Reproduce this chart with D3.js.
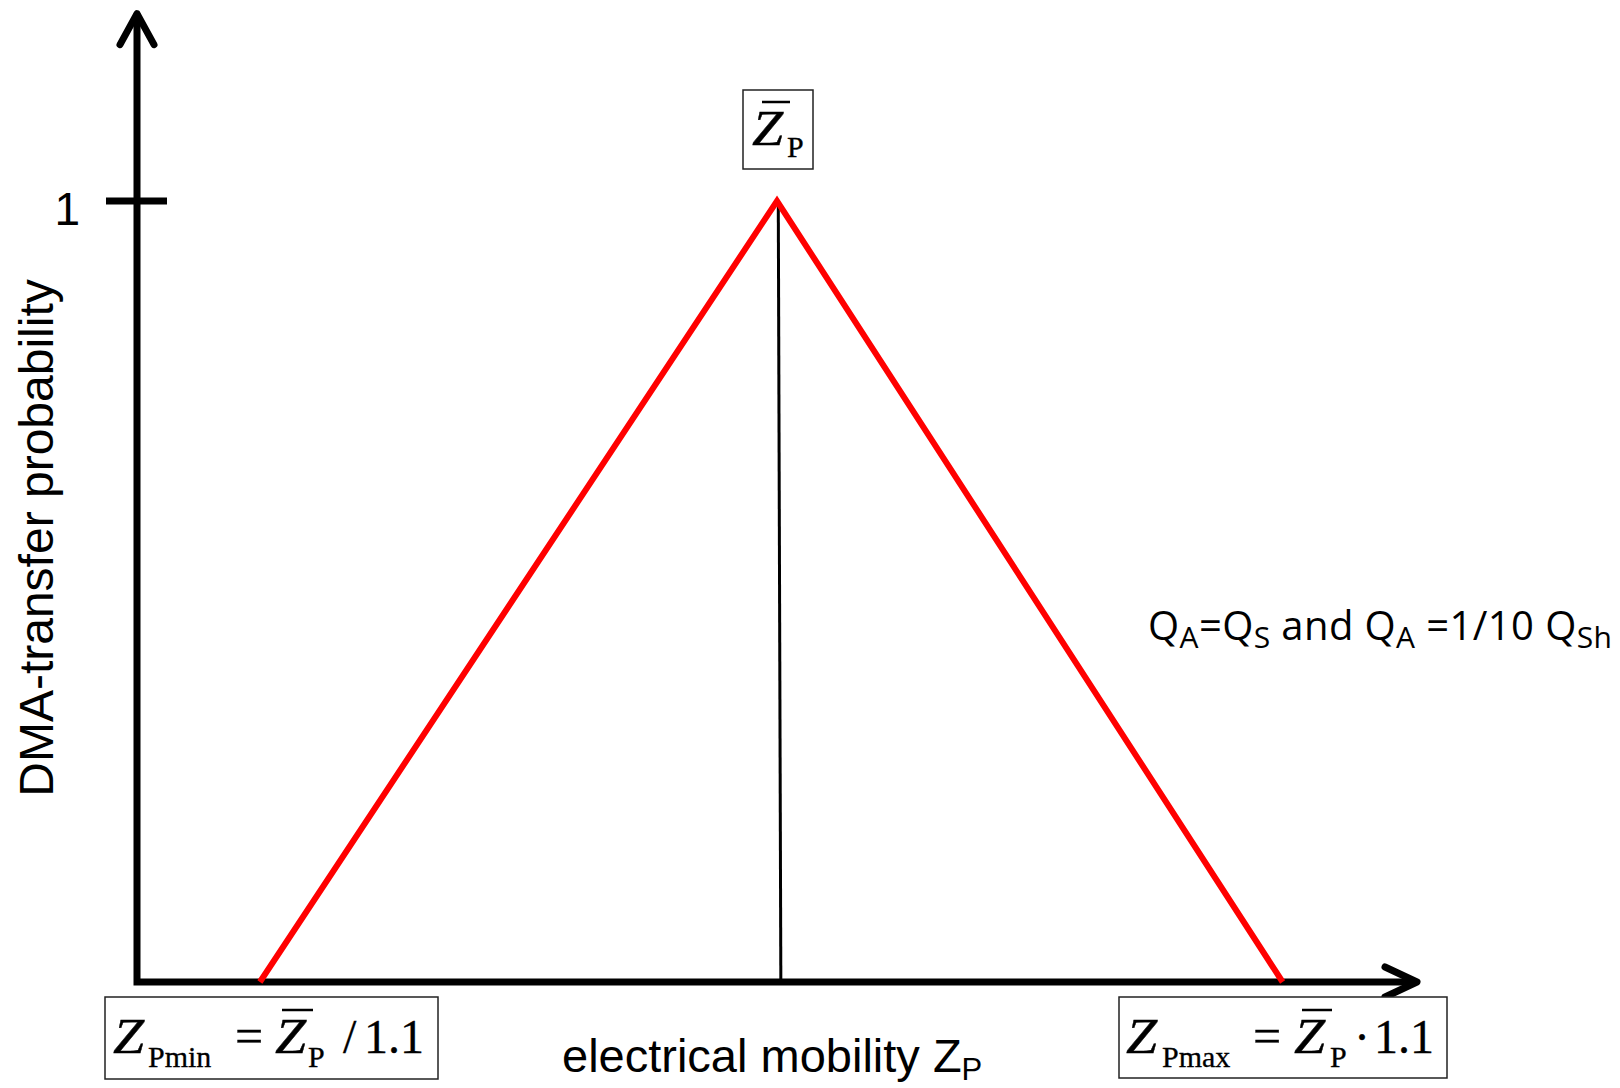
<!DOCTYPE html>
<html><head><meta charset="utf-8">
<script src="https://cdn.jsdelivr.net/npm/d3@7"></script>
<style>body{margin:0;background:#fff}</style>
</head><body><svg id="c" width="1620" height="1088"></svg>
<script>
// ---- data (schematic units) ----
const transferX = [0.96, 5.0, 8.95];      // Zpmin, Zp, Zpmax
const transferY = [0, 1, 0];
const centerLineX = [5.01, 5.03];
const centerLineY = [1, 0];
const yTicks = [1];
const yTickLabels = ["1"];
const yLabel = "DMA-transfer probability";
const xLabelMain = "electrical mobility Z";
const xLabelSub = "P";
const noteParts = [["Q",0],["A",1],["=Q",0],["S",1],[" and Q",0],["A",1],[" =1/10 Q",0],["Sh",1]];

const svg = d3.select("#c");
const x = d3.scaleLinear().domain([0, 10]).range([137, 1417]);
const y = d3.scaleLinear().domain([0, 1]).range([982, 201]);
const yTop = 1.24;

// axes
svg.append("path")
  .attr("d", d3.line()([[x(0), y(yTop)], [x(0), y(0)], [x(10), y(0)]]))
  .attr("fill", "none").attr("stroke", "#000").attr("stroke-width", 7)
  .attr("stroke-linejoin", "miter");
// arrowheads
svg.append("path")
  .attr("d", d3.line()([[x(0) - 17, y(yTop) + 31], [x(0), y(yTop)], [x(0) + 17, y(yTop) + 31]]))
  .attr("fill", "none").attr("stroke", "#000").attr("stroke-width", 7)
  .attr("stroke-linecap", "round").attr("stroke-linejoin", "round");
svg.append("path")
  .attr("d", d3.line()([[x(10) - 32, y(0) - 15], [x(10), y(0)], [x(10) - 32, y(0) + 15]]))
  .attr("fill", "none").attr("stroke", "#000").attr("stroke-width", 7)
  .attr("stroke-linecap", "round").attr("stroke-linejoin", "round");

// tick
svg.selectAll(".tick").data(yTicks).enter().append("line")
  .attr("x1", x(0) - 31).attr("x2", x(0) + 30)
  .attr("y1", d => y(d)).attr("y2", d => y(d))
  .attr("stroke", "#000").attr("stroke-width", 7);
svg.selectAll(".tl").data(yTicks).enter().append("text")
  .attr("x", 80).attr("y", d => y(d) + 24)
  .attr("text-anchor", "end")
  .attr("font-family", "Liberation Sans, Arial, sans-serif").attr("font-size", 46)
  .text((d, i) => yTickLabels[i]);

// center vertical line
svg.append("path")
  .attr("d", d3.line()(centerLineX.map((v, i) => [x(v), y(centerLineY[i])])))
  .attr("fill", "none").attr("stroke", "#000").attr("stroke-width", 3);

// transfer function
svg.append("path")
  .attr("d", d3.line()(transferX.map((v, i) => [x(v), y(transferY[i])])))
  .attr("fill", "none").attr("stroke", "#ff0000").attr("stroke-width", 6)
  .attr("stroke-linejoin", "miter");

// y label
svg.append("text")
  .attr("transform", "translate(53,538) rotate(-90)")
  .attr("text-anchor", "middle")
  .attr("font-family", "Liberation Sans, Arial, sans-serif").attr("font-size", 48)
  .text(yLabel);

// x label
const xl = svg.append("text")
  .attr("x", 562).attr("y", 1072)
  .attr("font-family", "Liberation Sans, Arial, sans-serif").attr("font-size", 47);
xl.append("tspan").text(xLabelMain);
xl.append("tspan").attr("dy", 8).attr("font-size", 31).text(xLabelSub);

// note
const nt = svg.append("text")
  .attr("x", 1148).attr("y", 640)
  .attr("font-family", "'Open Sans', Lato, sans-serif").attr("font-size", 40)
  .attr("letter-spacing", 0.4);
let prevSub = 0;
noteParts.forEach(([t, s]) => {
  const ts = nt.append("tspan").text(t).attr("font-size", s ? 30 : 40);
  if (s !== prevSub) ts.attr("dy", s ? 8 : -8);
  prevSub = s;
});

// formula boxes
const serif = "Liberation Serif, 'Times New Roman', serif";
function box(x0, y0, x1, y1) {
  svg.append("rect").attr("x", x0).attr("y", y0).attr("width", x1 - x0).attr("height", y1 - y0)
    .attr("fill", "#fff").attr("stroke", "#222").attr("stroke-width", 1.5);
}
function txt(tx, ty, s, size, italic) {
  const t = svg.append("text").attr("x", tx).attr("y", ty).attr("font-family", serif)
    .attr("font-size", size).attr("font-style", italic ? "italic" : "normal")
    .attr("fill", "#000").attr("stroke", "#000").attr("stroke-width", italic ? 0.4 : 0.3)
    .text(s);
  if (italic) t.attr("transform", `translate(${tx},${ty}) scale(1.12,1) translate(${-tx},${-ty})`);
}
function bar(x0, x1, by) {
  svg.append("line").attr("x1", x0).attr("x2", x1).attr("y1", by).attr("y2", by)
    .attr("stroke", "#000").attr("stroke-width", 2.5);
}

// Z̄_P at peak
box(743, 90, 813, 169);
txt(752, 145, "Z", 50, true);
bar(762, 790, 102);
txt(787, 157, "P", 30, false);

// Zpmin
box(105, 997, 438, 1079);
txt(113, 1053, "Z", 50, true);
txt(148, 1067, "Pmin", 30, false);
txt(235, 1053, "=", 50, false);
txt(275, 1053, "Z", 50, true);
bar(282, 313, 1010);
txt(308, 1067, "P", 30, false);
txt(343, 1053, "/", 48, false);
txt(364, 1053, "1.1", 48, false);

// Zpmax
box(1119, 997, 1447, 1078);
txt(1126, 1053, "Z", 50, true);
txt(1162, 1067, "Pmax", 30, false);
txt(1253, 1053, "=", 50, false);
txt(1294, 1053, "Z", 50, true);
bar(1302, 1332, 1010);
txt(1330, 1067, "P", 30, false);
txt(1354, 1053, "\u00B7", 48, false);
txt(1374, 1053, "1.1", 48, false);
</script></body></html>
